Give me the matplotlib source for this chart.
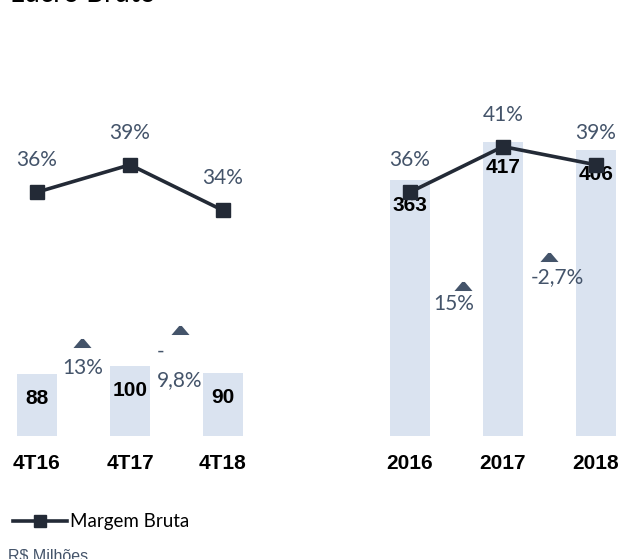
import matplotlib
matplotlib.use("Agg")
import matplotlib.pyplot as plt
from matplotlib.path import Path

# ---- data ----
quarters = ["4T16", "4T17", "4T18"]
quarter_values = [88, 100, 90]
quarter_margin = [36, 39, 34]
quarter_growth = ["13%", "-\n9,8%"]

years = ["2016", "2017", "2018"]
year_values = [363, 417, 406]
year_margin = [36, 41, 39]
year_growth = ["15%", "-2,7%"]

title = "Lucro Bruto"
legend_label = "Margem Bruta"
unit_note = "R$ Milhões"

# ---- style ----
W, H = 621, 559
DPI = 100
BAR_C = "#DAE3F0"
LINE_C = "#232A36"
PCT_C = "#44546A"
SPACING = 93.0      # px per category
BAR_BOTTOM = 436    # px from top
BAR_SCALE = 0.705   # px per unit
AX_TOP = 60         # px from top

TRI = Path([(-1, -0.5), (1, -0.5), (0.15, 0.5), (-0.15, 0.5), (-1, -0.5)],
           [Path.MOVETO, Path.LINETO, Path.LINETO, Path.LINETO, Path.CLOSEPOLY])

fig = plt.figure(figsize=(W / DPI, H / DPI), dpi=DPI)
fig.patch.set_facecolor("white")

# overlay in figure pixel coordinates (from top-left) for decorations
ov = fig.add_axes([0, 0, 1, 1], zorder=10)
ov.set_xlim(0, W)
ov.set_ylim(H, 0)
ov.axis("off")
ov.patch.set_alpha(0)


def fx(x):
    return x / W


def fy(y):
    return 1 - y / H


def make_panel(left_px, width_px, first_center_px, cats, vals, margins, growth,
               growth_pos):
    ax = fig.add_axes([fx(left_px), fy(BAR_BOTTOM), width_px / W,
                       (BAR_BOTTOM - AX_TOP) / H])
    x0 = -(first_center_px - left_px) / SPACING
    ax.set_xlim(x0, x0 + width_px / SPACING)
    ax.set_ylim(0, (BAR_BOTTOM - AX_TOP) / BAR_SCALE)
    xs = list(range(len(cats)))
    ax.bar(xs, vals, width=40 / SPACING, color=BAR_C, zorder=1)
    for x, v in zip(xs, vals):
        ax.annotate(str(v), (x, v), xytext=(0, -25), textcoords="offset pixels",
                    ha="center", va="center", fontsize=15, fontweight="bold",
                    family="Liberation Sans", color="black", zorder=5)
    ax.set_xticks(xs)
    ax.set_xticklabels(cats, fontsize=15, fontweight="bold",
                       family="Liberation Sans")
    ax.tick_params(length=0, pad=13)
    ax.set_yticks([])
    for s in ax.spines.values():
        s.set_visible(False)
    ax.patch.set_alpha(0)

    # margin line on twin axis
    ax2 = ax.twinx()
    ax2.set_ylim(9.27, 50.49)
    ax2.plot(xs, margins, color=LINE_C, lw=2.6, marker="s", markersize=9.5,
             zorder=3)
    for x, m in zip(xs, margins):
        ax2.annotate(f"{m}%", (x, m), xytext=(0, 32), textcoords="offset pixels",
                     ha="center", va="center", fontsize=15, family="Lato",
                     color=PCT_C)
    ax2.set_yticks([])
    for s in ax2.spines.values():
        s.set_visible(False)

    # growth triangles and labels (between categories)
    for g, (tx, ty, lx, ly, ha) in zip(growth, growth_pos):
        ov.plot([tx], [ty], linestyle="none", marker=TRI, markersize=13,
                color=PCT_C, markeredgewidth=0)
        fig.text(fx(lx), fy(ly), g, ha=ha, va="center", fontsize=15,
                 family="Lato", color=PCT_C, linespacing=1.5,
                 multialignment="left")
    return ax


make_panel(0, 260, 37, quarters, quarter_values, quarter_margin, quarter_growth,
           [(82, 343, 83, 368, "center"), (180, 330, 157, 366, "left")])
make_panel(370, 251, 410, years, year_values, year_margin, year_growth,
           [(463, 286, 454, 304, "center"), (549, 257, 557, 277, "center")])

# title (cut at top, as in the source)
fig.text(fx(10), fy(2), title, ha="left", va="baseline", fontsize=20,
         family="Lato", color="black")

# legend
lax = fig.add_axes([fx(10), fy(531), 60 / W, 20 / H])
lax.set_xlim(0, 1)
lax.set_ylim(0, 1)
lax.plot([0.05, 0.95], [0.5, 0.5], color=LINE_C, lw=2.6)
lax.plot([0.5], [0.5], color=LINE_C, marker="s", markersize=8)
lax.axis("off")
fig.text(fx(70), fy(521), legend_label, ha="left", va="center", fontsize=13.5,
         family="Lato", color="black")

fig.text(fx(8), fy(560), unit_note, ha="left", va="baseline", fontsize=11.5,
         family="Liberation Sans", color=PCT_C)

fig.savefig("out.png", dpi=DPI)
